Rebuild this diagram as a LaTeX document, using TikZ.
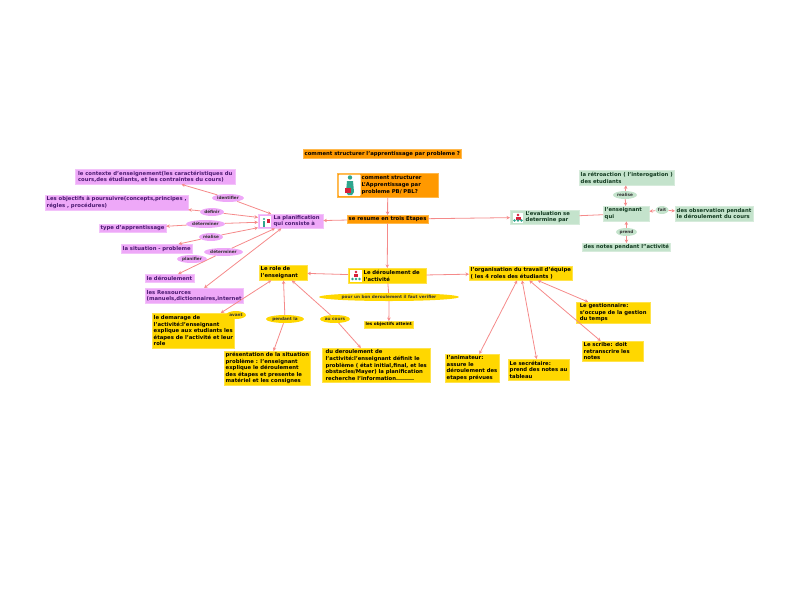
\documentclass[tikz,border=0pt]{standalone}
\usepackage{fontspec}
\setmainfont{DejaVu Sans}
\usepackage{xcolor}
\usetikzlibrary{arrows.meta}
\usetikzlibrary{shapes.geometric}
\definecolor{orangefill}{HTML}{FF9900}
\definecolor{yellowfill}{HTML}{FFD700}
\definecolor{purplefill}{HTML}{EEA8F8}
\definecolor{greenfill}{HTML}{C4E3CC}
\definecolor{purpletext}{HTML}{4A1A70}
\definecolor{greentext}{HTML}{123A20}
\definecolor{linkred}{HTML}{F58A8A}
\definecolor{figteal}{HTML}{2FA58E}
\definecolor{figred}{HTML}{D8203A}
\newcommand{\iconskip}{\hspace*{14pt}}
\tikzset{
  topic/.style={anchor=north west,draw=#1!70!white,fill=#1,line width=0.4pt,inner xsep=1.5pt,inner ysep=0pt,align=left,
    font=\fontsize{5.3}{6.6}\selectfont\bfseries},
  orangebox/.style={topic=orangefill,text=black},
  yellowbox/.style={topic=yellowfill,text=black},
  purplebox/.style={topic=purplefill,text=purpletext},
  greenbox/.style={topic=greenfill,text=greentext},
  linklabel/.style={ellipse,inner sep=0pt,fill=#1,text=black!80,font=\fontsize{4.2}{5}\selectfont\bfseries},
  link/.style={draw=linkred,line width=0.8pt},
  >={Stealth[length=3.5pt,width=3.5pt]}
}
\begin{document}
\begin{tikzpicture}[x=1pt,y=-1pt]
    \useasboundingbox (0,0) rectangle (798,600);

    \node[orangebox,minimum height=9pt] (question) at (303,149) {comment structurer l'apprentissage par probleme ?};
    \node[orangebox,text width=98pt,minimum height=24pt] (center) at (337,173) {\hspace*{23pt}comment structurer\\\hspace*{23pt}L'Apprentissage par\\\hspace*{23pt}probleme PB/ PBL?};
    \node[orangebox,minimum height=8pt] (etapes) at (347,215) {se resume en trois Etapes};

    \node[purplebox,text width=62pt,minimum height=14pt] (planif) at (258,214) {\iconskip La planification\\\iconskip qui consiste à};
    \node[purplebox,minimum width=160pt,minimum height=15pt] (contexte) at (75,169) {le contexte d'enseignement(les caractéristiques du\\cours,des étudiants, et les contraintes du cours)};
    \node[purplebox,minimum height=15pt] (objectifs) at (45,195) {Les objectifs à poursuivre(concepts,principes ,\\régles , procédures)};
    \node[purplebox,minimum height=8pt] (type) at (99,224) {type d'apprentissage};
    \node[purplebox,minimum height=9pt] (situation) at (121,244) {la situation - probleme};
    \node[purplebox,minimum height=8pt] (droulement) at (145,274) {le déroulement};
    \node[purplebox,minimum height=15pt] (ressources) at (145,288) {les Ressources\\(manuels,dictionnaires,internet};

    \node[yellowbox,text width=45pt,minimum height=15pt] (role) at (259,265) {Le role de\\l'enseignant};
    \node[yellowbox,text width=75pt,minimum height=15pt] (activite) at (348,268) {\iconskip Le déroulement de\\\iconskip l'activité};
    \node[yellowbox,minimum height=14pt] (organisation) at (469,266) {l'organisation du travail d'équipe\\( les 4 roles des étudiants )};
    \node[yellowbox,minimum height=7pt,font=\fontsize{4.2}{5}\selectfont\bfseries] (atteint) at (364,321) {les objectifs atteint};

    \node[yellowbox,minimum height=35pt] (demarage) at (152,313) {le demarage de\\l'activité:l'enseignant\\explique aux etudiants les\\étapes de l'activité et leur\\role};
    \node[yellowbox,minimum height=34pt] (presentation) at (224,351) {présentation de la situation\\problème : l'enseignant\\explique le déroulement\\des étapes et presente le\\matériel et les consignes};
    \node[yellowbox,minimum width=108pt,minimum height=34pt] (encours) at (322,348) {du deroulement de\\l'activité:l'enseignant définit le\\problème ( état initial,final, et les\\obstacles/Mayer) la planification\\recherche l'information.........};

    \node[yellowbox,minimum width=74pt,minimum height=21pt] (gestionnaire) at (576,302) {Le gestionnaire:\\s'occupe de la gestion\\du temps};
    \node[yellowbox,text width=58pt,minimum height=20pt] (scribe) at (582,341) {Le scribe: doit\\retranscrire les\\notes};
    \node[yellowbox,minimum height=21pt] (secretaire) at (508,359) {Le secrétaire:\\prend des notes au\\tableau};
    \node[yellowbox,minimum height=28pt] (animateur) at (445,354) {l'animateur:\\assure le\\déroulement des\\etapes prévues};

    \node[greenbox,text width=66pt,minimum height=14pt] (evaluation) at (510,210) {\iconskip L'evaluation se\\\iconskip determine par};
    \node[greenbox,text width=43pt,minimum height=15pt] (enseignant) at (603,206) {l'enseignant\\qui};
    \node[greenbox,minimum height=15pt] (retroaction) at (579,170) {la rétroaction ( l'interogation )\\des etudiants};
    \node[greenbox,minimum height=15pt] (observation) at (675,206) {des observation pendant\\le déroulement du cours};
    \node[greenbox,minimum height=8pt] (notes) at (582,243) {des notes pendant l''activité};

    \node[linklabel=purplefill,minimum width=32pt,minimum height=8pt] (identifier) at (228,198) {identifier};
    \node[linklabel=purplefill,minimum width=24pt,minimum height=8pt] (definir) at (212,212) {définir};
    \node[linklabel=purplefill,minimum width=39pt,minimum height=8pt] (determiner) at (205.5,224) {déterminer};
    \node[linklabel=purplefill,minimum width=24pt,minimum height=8pt] (realisea) at (211,237) {réalise};
    \node[linklabel=purplefill,minimum width=39pt,minimum height=8pt] (determinerb) at (223.5,252) {déterminer};
    \node[linklabel=purplefill,minimum width=30pt,minimum height=8pt] (planifier) at (192,259) {planifier};

    \node[linklabel=yellowfill,minimum width=20pt,minimum height=8pt] (avant) at (236,315) {avant};
    \node[linklabel=yellowfill,minimum width=38pt,minimum height=8pt] (pendant) at (285,319) {pendant la};
    \node[linklabel=yellowfill,minimum width=30pt,minimum height=8pt] (aucours) at (335,319) {au cours};
    \node[linklabel=yellowfill,minimum width=140pt,minimum height=8pt] (verifier) at (389,297) {pour un bon deroulement il faut  verifier};

    \node[linklabel=greenfill,minimum width=24pt,minimum height=8pt] (realiseb) at (625,195) {realise};
    \node[linklabel=greenfill,minimum width=13pt,minimum height=8pt] (fait) at (662,210) {fait};
    \node[linklabel=greenfill,minimum width=21pt,minimum height=8pt] (prend) at (626.5,232) {prend};

    % icons
    \fill[white,rounded corners=1pt] (338.5,174.5) rectangle (360.5,196);
    \fill[figteal] (350,177.5) circle (2.2);
    \fill[figteal] (347,181) -- (353,181) -- (354,192) -- (352,195) -- (348,195) -- (346,192) -- cycle;
    \fill[figred] (345,188) rectangle (351,193);
    \fill[white] (260,216) rectangle (271,227);
    \fill[figteal] (264,219) circle (1.2);
    \fill[figteal] (262.8,221) rectangle (265.2,227);
    \fill[figred] (267,219) rectangle (269.5,223);
    \fill[white] (350,269.5) rectangle (361.5,281.5);
    \fill[figred] (356,272) circle (1.3);
    \fill[figred] (354,274) rectangle (358,277);
    \foreach \px in {352.5,356,359.5} {
      \fill[figteal] (\px,279) circle (1.4);
    }
    \fill[white] (512.5,212.5) rectangle (523,222.5);
    \fill[figred] (518,215) circle (1.3);
    \fill[figred] (515.5,217) rectangle (520.5,220);
    \foreach \px in {514.5,518,521.5} {
      \fill[figteal] (\px,220.5) circle (1.3);
    }

    % links
    \draw[link,->] (center) -- (etapes);
    \draw[link,->] (etapes) -- (planif);
    \draw[link,->] (etapes) -- (activite);
    \draw[link,->] (etapes) -- (evaluation);
    \draw[link,->] (activite) -- (role);
    \draw[link,->] (activite) -- (organisation);
    \draw[link] (activite) -- (verifier);
    \draw[link,->] (verifier) -- (atteint);

    \draw[link,<-] (planif) -- (identifier);
    \draw[link,->] (identifier) -- (contexte);
    \draw[link,<-] (planif) -- (definir);
    \draw[link,->] (definir) -- (objectifs);
    \draw[link,<-] (planif) -- (determiner);
    \draw[link,->] (determiner) -- (type);
    \draw[link,<-] (planif) -- (realisea);
    \draw[link,->] (realisea) -- (situation);
    \draw[link,<-] (planif) -- (determinerb);
    \draw[link,->] (determinerb) -- (droulement);
    \draw[link,<->] (planif) -- (ressources);

    \draw[link,<->] (role) -- (demarage);
    \draw[link,<-] (role) -- (pendant);
    \draw[link,->] (pendant) -- (presentation);
    \draw[link,<-] (role) -- (aucours);
    \draw[link,->] (aucours) -- (encours);

    \draw[link,<->] (organisation) -- (gestionnaire);
    \draw[link,<->] (organisation) -- (scribe);
    \draw[link,<->] (organisation) -- (secretaire);
    \draw[link,<->] (organisation) -- (animateur);

    \draw[link] (evaluation) -- (enseignant);
    \draw[link,<-] (enseignant) -- (realiseb);
    \draw[link,->] (realiseb) -- (retroaction);
    \draw[link,<-] (enseignant) -- (prend);
    \draw[link,->] (prend) -- (notes);
    \draw[link,<-] (enseignant) -- (fait);
    \draw[link,->] (fait) -- (observation);

\end{tikzpicture}
\end{document}
